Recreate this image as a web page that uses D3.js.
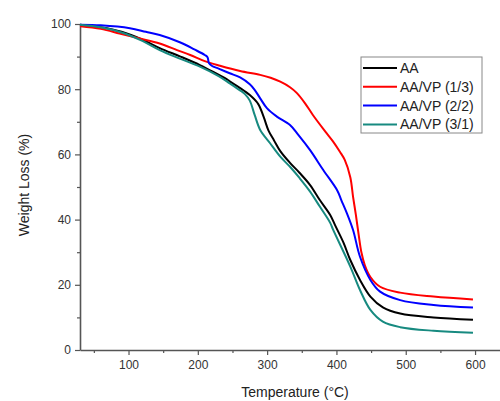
<!DOCTYPE html>
<html>
<head>
<meta charset="utf-8">
<script src="https://cdn.jsdelivr.net/npm/d3@7"></script>
<style>
  body { margin: 0; background: #fff; }
  svg { display: block; font-family: Arial, "Liberation Sans", sans-serif; }
</style>
</head>
<body>
<svg id="chart" width="500" height="401"></svg>
<script>
// TGA curves, [temperature °C, weight %]
const seriesNames = ['AA', 'AA/VP (1/3)', 'AA/VP (2/2)', 'AA/VP (3/1)'];
const seriesColors = ['#000000', '#ff0000', '#0000ff', '#178a80'];

const aa = [[30,99.8],[60,99],[90,97.6],[120,95.2],[145,92.6],[175,90],[203,87.4],[225,85],[243,82.9],
  [246,82.4],[260,80.5],[275,78.2],[287,75.5],[295,71.5],[302,67.3],[310,64.3],[319,61],[333,57.4],
  [347,54.3],[362,50.6],[376,46],[391,41.4],[398,38.3],[410,33],[420,27.6],[434,21.5],[449,16.4],
  [467,13.1],[492,11.2],[540,10],[597,9.3]];

const vp13 = [[30,99.3],[60,98.5],[87,97.1],[115,95.6],[145,94],[170,92],[189,90.5],[210,88.6],[232,87.2],
  [261,85.6],[290,84.4],[305,83.5],[319,82.3],[333,80.6],[343,78.8],[355,75.6],[366,72.1],[384,67],
  [395,64],[405,60.8],[412,58.3],[420,53],[424,47],[428,41.5],[432,35.5],[436,30],[441,26],[449,22.4],
  [463,19.4],[492,17.6],[540,16.4],[597,15.5]];

const vp22 = [[30,99.8],[60,99.6],[102,98.7],[125,97.6],[145,96.6],[174,94.4],[195,92.2],[210,90.5],[214,89.8],
  [216,88],[220,87.2],[230,86.3],[246,84.9],[261,83.6],[275,81.5],[282,79.8],[290,77.2],[300,74.1],
  [314,71.6],[333,69],[345,66],[362,61.3],[381,55.2],[401,49],[407,46],[415,42],[424,36.8],[434,28.6],
  [449,21.5],[463,17.9],[492,15.3],[540,13.8],[597,13]];

const vp31 = [[30,99.8],[60,99],[90,97.4],[120,94.8],[145,92],[175,89.3],[203,86.9],[230,84],[246,81.8],
  [262,79.5],[268,78.5],[275,76.5],[282,72.1],[290,67.5],[304,63.5],[319,59.3],[333,56.2],[347,52.7],
  [362,48.6],[376,44],[391,39],[395,37],[420,25.6],[434,18.4],[449,12.3],[467,8.7],[492,7],[540,5.9],
  [597,5.3]];

const xTicks = [100, 200, 300, 400, 500, 600];
const xMinor = [50, 150, 250, 350, 450, 550];
const yTicks = [0, 20, 40, 60, 80, 100];
const yMinor = [10, 30, 50, 70, 90];

const allSeries = [aa, vp13, vp22, vp31];

const svg = d3.select('#chart');
const axisColor = '#555';

const x = d3.scaleLinear().domain([30, 636]).range([80, 500]);
const y = d3.scaleLinear().domain([0, 100]).range([350, 24]);

// minor ticks first, majors drawn on top
svg.append('g')
    .attr('transform', 'translate(0,350)')
    .call(d3.axisBottom(x).tickValues(xMinor).tickSize(3).tickFormat(''))
    .call(g => g.select('.domain').remove())
    .call(g => g.selectAll('line').attr('stroke', axisColor).attr('stroke-width', 1.2));

svg.append('g')
    .attr('transform', 'translate(80,0)')
    .call(d3.axisLeft(y).tickValues(yMinor).tickSize(3).tickFormat(''))
    .call(g => g.select('.domain').remove())
    .call(g => g.selectAll('line').attr('stroke', axisColor).attr('stroke-width', 1.2));

const xAxis = svg.append('g')
    .attr('transform', 'translate(0,350)')
    .call(d3.axisBottom(x).tickValues(xTicks).tickSize(5).tickSizeOuter(0).tickPadding(5));

const yAxis = svg.append('g')
    .attr('transform', 'translate(80,0)')
    .call(d3.axisLeft(y).tickValues(yTicks).tickSize(5).tickSizeOuter(0).tickPadding(4));

[xAxis, yAxis].forEach(g => {
    g.select('.domain').attr('stroke', axisColor).attr('stroke-width', 1.6);
    g.selectAll('.tick line').attr('stroke', axisColor).attr('stroke-width', 1.2);
    g.selectAll('.tick text')
        .attr('fill', '#333')
        .style('font-size', '12px')
        .style('font-family', 'Arial, "Liberation Sans", sans-serif');
});

const line = d3.line()
    .x(d => x(d[0]))
    .y(d => y(d[1]))
    .curve(d3.curveCatmullRom.alpha(0.5));

allSeries.forEach((data, i) => {
    svg.append('path')
        .datum(data)
        .attr('fill', 'none')
        .attr('stroke', seriesColors[i])
        .attr('stroke-width', 2)
        .attr('d', line);
});

// axis titles
svg.append('text')
    .attr('x', 295).attr('y', 397)
    .attr('text-anchor', 'middle')
    .attr('fill', '#222')
    .style('font-size', '14px')
    .text('Temperature (°C)');

svg.append('text')
    .attr('transform', 'translate(29,185) rotate(-90)')
    .attr('text-anchor', 'middle')
    .attr('fill', '#222')
    .style('font-size', '14px')
    .text('Weight Loss (%)');

// legend
const legend = svg.append('g').attr('transform', 'translate(361,57)');
legend.append('rect')
    .attr('width', 121).attr('height', 76)
    .attr('fill', '#fff')
    .attr('stroke', '#888')
    .attr('stroke-width', 1);

seriesNames.forEach((name, i) => {
    const row = legend.append('g').attr('transform', `translate(0,${11 + i * 18.8})`);
    row.append('line')
        .attr('x1', 2).attr('x2', 36)
        .attr('stroke', seriesColors[i])
        .attr('stroke-width', 2);
    row.append('text')
        .attr('x', 39).attr('y', 5)
        .attr('fill', '#222')
        .style('font-size', '14px')
        .text(name);
});
</script>
</body>
</html>
